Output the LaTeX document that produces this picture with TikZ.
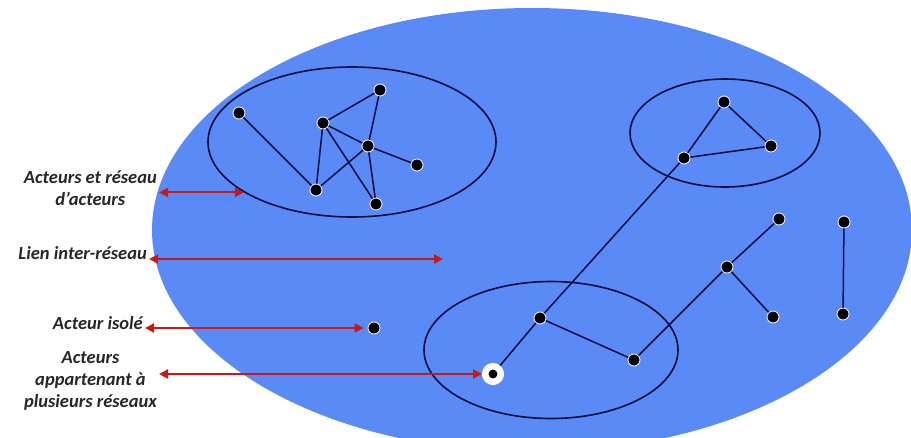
\documentclass[tikz,border=0pt]{standalone}
\usepackage{fontspec}
\setmainfont{Carlito}
\usepackage{tikz}
\usetikzlibrary{arrows.meta,shapes.geometric}
\definecolor{bgblue}{RGB}{90,138,245}
\definecolor{inkblue}{RGB}{12,12,62}
\definecolor{arrred}{RGB}{200,25,25}
\tikzset{
  actor/.style      = {circle, fill=black, draw=white, line width=0.8pt,
                       inner sep=0pt, minimum size=12pt},
  multiactor/.style = {circle, fill=black, draw=white, line width=6.5pt,
                       inner sep=0pt, minimum size=15.5pt},
  group/.style      = {ellipse, draw=inkblue, line width=1.6pt, inner sep=0pt},
  link/.style       = {draw=inkblue, line width=1.5pt},
  callout/.style    = {{Triangle[length=9pt,width=9pt]}-{Triangle[length=9pt,width=9pt]},
                       draw=arrred, line width=2pt},
  note/.style       = {font=\fontsize{18.5}{22}\selectfont\bfseries\itshape,
                       text=black!85, align=center, inner sep=2pt, anchor=east},
}

\begin{document}
\begin{tikzpicture}[x=1pt,y=-1pt]
\useasboundingbox (0,0) rectangle (911,437);
\clip (0,0) rectangle (911,437);
% background
\fill[bgblue] (532,230) ellipse [x radius=380, y radius=222];

% groups
\node[group, minimum width=288pt, minimum height=150pt] (net1) at (352,142) {};
\node[group, minimum width=190pt, minimum height=108pt] (net2) at (725,133) {};
\node[group, minimum width=254pt, minimum height=137pt] (net3) at (551,350) {};

% actors
\node[actor] (a1) at (239,113) {};
\node[actor] (a2) at (380,90) {};
\node[actor] (a3) at (323,123) {};
\node[actor] (a4) at (368,146) {};
\node[actor] (a5) at (417,165) {};
\node[actor] (a6) at (316,190) {};
\node[actor] (a7) at (376,204) {};
\node[actor] (b1) at (724,102) {};
\node[actor] (b2) at (771,146) {};
\node[actor] (b3) at (684,158) {};
\node[actor] (c1) at (540,318) {};
\node[actor] (c2) at (634,360) {};
\node[multiactor] (c3) at (493,374) {};
\node[actor] (d1) at (779,219) {};
\node[actor] (d2) at (727,267) {};
\node[actor] (d3) at (773,317) {};
\node[actor] (d4) at (844,222) {};
\node[actor] (d5) at (843,314) {};
\node[actor] (iso) at (374,328) {};

% links
\foreach \u/\v in {a1/a6, a6/a3, a6/a4, a3/a2, a2/a4, a3/a4, a4/a5, a3/a7, a4/a7,
                   b1/b2, b2/b3, b3/b1, c1/c3, c1/c2, c1/b3, c2/d2,
                   d1/d2, d2/d3, d4/d5}
  \draw[link] (\u) -- (\v);

% labels
\node[note] (lblA) at (159,188) {Acteurs et réseau\\d'acteurs};
\node[note] (lblB) at (149,253) {Lien inter-réseau};
\node[note] (lblC) at (145,323) {Acteur isolé};
\node[note] (lblD) at (159,381) {Acteurs\\appartenant à\\plusieurs réseaux};
\coordinate (gapEnd) at (443,259);

\draw[callout] (lblA.east |- net1.205) -- (net1.205);
\draw[callout] (lblB.east |- gapEnd) -- (gapEnd);
\draw[callout, shorten >=4pt] (lblC.east |- iso) -- (iso);
\draw[callout] (lblD.east |- c3) -- (c3);
\end{tikzpicture}
\end{document}
